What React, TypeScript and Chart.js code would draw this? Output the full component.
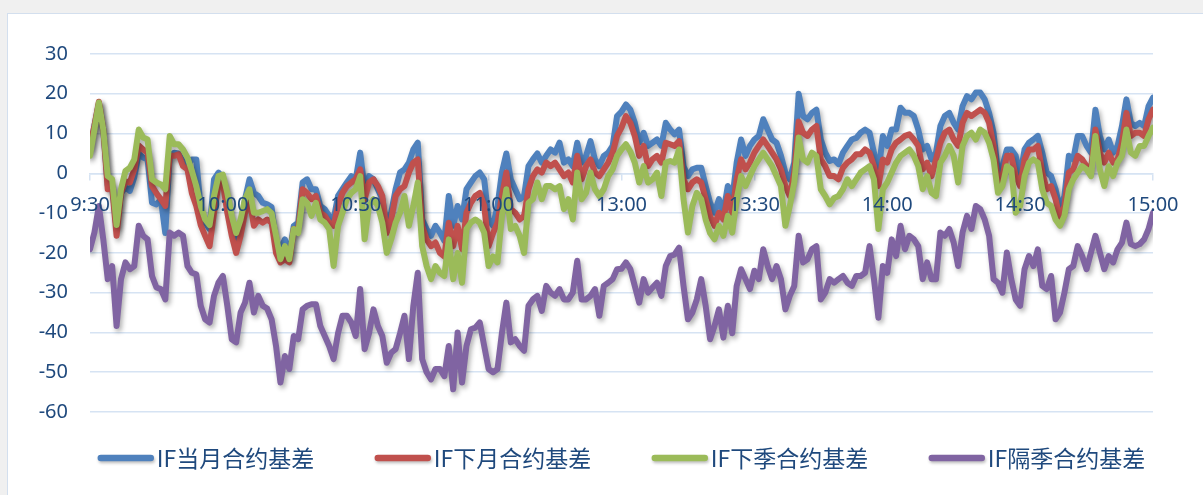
import React, { useEffect, useRef } from 'react';
import { Chart, registerables } from 'chart.js';

Chart.register(...registerables);

const tickLabels = ['9:30', '10:00', '10:30', '11:00', '13:00', '13:30', '14:00', '14:30', '15:00'];
const seriesNames = ['IF当月合约基差', 'IF下月合约基差', 'IF下季合约基差', 'IF隔季合约基差'];
const seriesColors = ['#4F81BD', '#C0504D', '#9BBB59', '#8064A2'];

const ifCurrent = [
  5.5, 12, 17.5, 11, -3, -3, -14, -5, -3.5, -4.4,
  -1, 5, 4, 3.5, -7.4, -7.8, -6.5, -15, 4.4, 5.2,
  5, 3, 2, 3.5, 3.5, -9, -12.4, -14, -1.5, 0.2,
  -1, -6, -12, -17, -13, -6.5, -1.5, -4.9, -5.7, -7.4,
  -7.8, -8.5, -17.4, -19, -16.6, -20.9, -13.2, -12.4, -2.3, -1.5,
  -4, -4, -8.2, -9, -10.7, -11.6, -5.7, -4, -2.3, -0.7,
  -1.5, 5.2, -4, -0.7, -1.5, -4, -6.5, -13.2, -9.9, -4,
  0.2, 1, 2.7, 6, 7.7, -11.6, -14, -15.7, -13.2, -14.9,
  -17, -5.7, -13.2, -8.2, -11.6, -4, -2.3, -0.7, 0.2, -1.5,
  -11.6, -13.2, -8.2, 0.2, 5, -1.5, -4, -6.5, -5.7, 1.8,
  3.5, 5, 2.7, 4.4, 6, 5.2, 7.7, 2.7, 3.5, 1.8,
  7.7, 2.7, 4.4, 8.1, 3.5, 1.8, 4.4, 5.2, 6.9, 14.4,
  15.5, 17.3, 16, 12.7, 7.7, 10.2, 6.9, 7.7, 8.5, 6.9,
  12.7, 11, 9.8, 11, 1.8, -0.7, 1, 1.4, 1.4, -3.2,
  -7.4, -9.9, -6.5, -9.9, -3.2, -6.5, 2.7, 8.5, 4.4, 6.9,
  8.5, 9.4, 13.6, 11, 8.5, 7.7, 4.4, 0.2, -1.5, 2.7,
  20, 14.4, 13.6, 15.2, 16, 8.5, 5.2, 3.1, 3.5, 2.3,
  5.2, 6.9, 8.5, 8.9, 10.2, 11, 10.2, 5.2, 0.2, 9.4,
  6.9, 11, 11, 16.5, 15.2, 15.2, 14.4, 11, 6, 6.9,
  3.5, 5.2, 11.9, 14.4, 15.2, 12.7, 11, 16.9, 19.4, 18.6,
  20.3, 20.3, 18.6, 15.2, 10.2, 0.2, 1.8, 6, 6, 4.4,
  -0.7, 6, 7.7, 8.5, 9.4, 5.2, 0.2, -0.7, -4, -9,
  -5.7, 4.4, 3.5, 9.4, 9.4, 6.9, 5.2, 16, 9.4, 6,
  8.5, 5.2, 6.9, 11.9, 18.6, 12.7, 11.9, 12.7, 11.9, 16.9,
  19,
];

const ifNext = [
  6.8, 12, 18, 11, -4, -3.5, -15.7, -5, -2, -2.3,
  1, 7, 6, 5.2, -3.2, -5, -6.5, -8.2, 4.4, 4.4,
  4.8, 1.8, 1, -5, -8.2, -13, -15.7, -18.3, -9.9, -3,
  -2.3, -9.9, -15.7, -20, -15.7, -9.9, -6.5, -13.2, -11.6, -12.4,
  -11.6, -12.4, -20, -22.4, -21.6, -22.4, -14, -14, -4, -4.9,
  -6.5, -5.7, -9.9, -10.7, -12.4, -13.2, -8.2, -4.9, -3.2, -2.3,
  -1.5, 1, -6.5, -2.3, -1.5, -3.2, -5.7, -15, -11.6, -5.7,
  -4, -3.2, 0.2, 2.7, 3.5, -13.2, -16.6, -18.3, -17.4, -20,
  -20.9, -12.4, -18.3, -13.2, -19.1, -9.9, -7.4, -5.7, -4.9, -8.2,
  -18.3, -15, -12.4, -5.7, 0.2, -9, -9.9, -11.6, -10.7, -4,
  -0.7, 1, 0.2, 2.7, 1.8, 2.7, 1, -0.7, 0.2, -2.3,
  4.4, -1.5, 1.8, 3.5, 0.2, -0.7, 1, 2.7, 5.2, 9.4,
  11.5, 14.4, 12.7, 9.4, 4.4, 6.9, 1.8, 3.5, 4.4, 2.7,
  7.7, 7.3, 6.9, 8.1, -1.5, -4, -2.3, -1.5, -2.3, -6.5,
  -10.8, -13.2, -9.9, -11.6, -5.7, -9.9, -1.5, 3.5, 1, 2.7,
  5.2, 6.9, 8.5, 6.9, 5.2, 3.5, 1, -3.2, -5.7, 0.2,
  13, 10.2, 9.4, 11, 11.9, 3.5, 1.8, -0.7, -0.7, -1.5,
  1.4, 2.7, 3.5, 4.8, 4.8, 6, 5.2, 1.8, -3.2, 3.5,
  2.7, 6, 7.7, 8.5, 9.4, 9.8, 8.5, 6.9, 1, 2.7,
  -0.7, 3.5, 7.7, 10.2, 11, 8.5, 6.9, 12.7, 15.2, 14.4,
  15.2, 16, 15.2, 12.7, 6.9, -2.3, -0.7, 4.4, 4.4, -0.7,
  -3.2, 3.5, 6, 6, 6.9, 0.2, -4, -3.2, -6.5, -11.6,
  -8.2, 0.2, 1, 4.4, 3.5, 1.8, 1, 11, 5.2, 2.7,
  5.2, 2.7, 3.5, 7.7, 15.2, 9.4, 10.2, 10.2, 9.4, 13.6,
  16,
];

const ifNextQuarter = [
  4.4, 11, 17.8, 11, -0.7, -1.5, -13, -4, 0.6, 1.4,
  3.5, 11, 9, 8.5, -1.5, -2.3, -2.8, -4, 9.4, 7.3,
  7.3, 6, 4, 0.6, -3.2, -8.2, -11.6, -13, -5.7, -0.7,
  -0.3, -4.9, -10.7, -15, -11.6, -6.5, -4, -9.9, -9.9, -9.5,
  -9, -10, -15.7, -21.6, -18.3, -21.6, -14, -15, -6.5, -7.4,
  -10.7, -7.4, -11.6, -12.4, -14, -23.3, -13.2, -9.9, -6.5, -4.9,
  -4, -0.7, -16.6, -8.2, -6.5, -8.2, -12.4, -20, -16.6, -12.4,
  -9.9, -5.7, -13.2, -8.2, -2.3, -18.3, -23.3, -26.6, -23.3, -25,
  -25.8, -16.6, -26.6, -20, -27.5, -14, -12.4, -11.6, -12.4, -14.9,
  -23.3, -20.9, -22.4, -10.7, -4, -14, -13.2, -15.7, -20, -7.4,
  -6.5, -2.3, -6.5, -3.2, -3.2, -4, -3.2, -9, -6.5, -11.6,
  0.2, -6.5, -4.9, 0.2, -4, -5.7, -4, -0.7, 1, 4.4,
  6, 7.3, 5.5, 2.7, -2.3, 1.8, -2.3, -1.5, 0.2, -5.7,
  2.7, 3.1, 2.7, 6, -6.5, -14.9, -8.2, -4.9, -6.5, -11.6,
  -15, -16.6, -13.2, -15.7, -10.7, -14.9, -6.5, -0.7, -3.2, -0.7,
  1.8, 3.5, 5.2, 3.5, 1.8, -0.7, -3.2, -13.2, -8.2, -2.3,
  9, 3.5, 2.7, 5.2, 4.4, -4, -5.7, -7.8, -6.2, -5.7,
  -4, -1.5, -3.2, -1.5, 0.2, 1, 1.8, -1.5, -14, -4,
  -2.3, 0.2, 2.7, 4.4, 5.2, 6, 4.4, 1.8, -4, -0.7,
  -4.9, -5.7, 2.7, 4.4, 6.9, 4.4, -2.3, 6.9, 9.4, 10.2,
  8.5, 11, 10.2, 7.7, 3.5, -4.9, -3.2, 1.8, 1, -9.9,
  -8.2, -0.7, 2.7, 3.5, 2.7, -4, -7.4, -8.2, -11.6, -13.2,
  -10.7, -4, -1.5, 0.2, 1.8, 1, -0.7, 9.4, 1, -3.2,
  1.8, -0.7, 2.7, 4.4, 11, 5.2, 4.4, 6.9, 6.9, 9.4,
  11.5,
];

const ifFarQuarter = [
  -19.1, -14.9, -8.2, -16.6, -26.6, -23.3, -38.4, -26.6, -22.4, -24.1,
  -23.3, -13.2, -15.7, -16.6, -25.8, -28.7, -29.1, -31.7, -14.9, -15.7,
  -14.9, -15.7, -23.3, -25, -25.4, -33.3, -36.7, -37.5, -30.8, -27.5,
  -25.8, -33.3, -41.7, -42.5, -35, -32.5, -27.5, -35, -30.8, -33.3,
  -34, -36.7, -43.4, -52.6, -45.9, -49.2, -40.9, -41.7, -34.2, -33.3,
  -32.9, -32.9, -38.4, -40.9, -43.4, -46.7, -40.2, -35.8, -35.8, -37.5,
  -40.9, -29.1, -44.2, -40.2, -34.2, -38.4, -40.9, -47.6, -45.1, -44.2,
  -40.2, -35.8, -46.7, -33.3, -25, -46.7, -50, -51.8, -49.2, -49.2,
  -51, -43.4, -54.3, -40, -52.6, -43.4, -39.2, -38.8, -37.5, -43.4,
  -49.2, -50, -49.2, -40.2, -32.5, -42.5, -41.7, -43.4, -44.6, -33.3,
  -31.7, -30.8, -34.6, -28.3, -30, -30.8, -29.1, -31.7, -31.7, -30,
  -22, -31.7, -31.7, -30.8, -29.1, -35.8, -28.3, -27.5, -26.6, -24.1,
  -24, -22.4, -24.1, -28.3, -32.5, -26.6, -30, -28.7, -27.5, -30.8,
  -23.3, -20.8, -20.4, -18.7, -28.3, -36.7, -35, -31.7, -26.6, -33.3,
  -41.7, -38.4, -34.2, -41.3, -33.3, -40.2, -28.3, -24.1, -26.6, -29.1,
  -24.5, -26.6, -19.1, -23.3, -26.6, -23.3, -26.6, -34.2, -30.8, -28.3,
  -15.7, -22.4, -21.6, -19.1, -18.3, -31.7, -30, -26.6, -27.5, -26.6,
  -25.8, -27.5, -28.3, -25.8, -25.8, -25, -18.3, -26.6, -36.3, -23.3,
  -25, -16.6, -20.8, -13.2, -19.1, -15.7, -16.6, -18.3, -26.6, -22.4,
  -26.6, -26.6, -14.9, -15.7, -14, -17.4, -23.3, -14.9, -10.7, -14,
  -8.2, -9, -11.6, -15.7, -26.6, -27.5, -30, -19.9, -26.6, -31.7,
  -33.3, -24.1, -20.8, -23.3, -19.1, -28.3, -29.1, -25.8, -36.7, -35,
  -30, -24.1, -23.3, -18.3, -20.8, -24.1, -19.9, -15.7, -19.9, -24.1,
  -20.8, -22.4, -19.1, -17.4, -12.4, -17.8, -18.3, -17.8, -16.6, -14,
  -9.9,
];

const seriesValues = [ifCurrent, ifNext, ifNextQuarter, ifFarQuarter];

const TEXT_COLOR = '#1F497D';
const GRID_COLOR = '#D6E3F3';
const AXIS_FONT = { family: '"Noto Sans", "Open Sans", sans-serif', size: 20 };

const shadowPlugin = {
  id: 'lineShadow',
  beforeDatasetDraw(chart: any) {
    const ctx = chart.ctx;
    ctx.save();
    ctx.shadowColor = 'rgba(0,0,0,0.32)';
    ctx.shadowBlur = 5;
    ctx.shadowOffsetX = 2;
    ctx.shadowOffsetY = 3;
  },
  afterDatasetDraw(chart: any) {
    chart.ctx.restore();
  },
};

const legendPlugin = {
  id: 'excelLegend',
  afterDraw(chart: any) {
    const ctx = chart.ctx;
    const { left, right } = chart.chartArea;
    ctx.save();
    ctx.font = '23px "Noto Sans CJK SC", "Noto Sans", sans-serif';
    const lineLen = 56;
    const gap = 3;
    const step = 277;
    const lastW = lineLen + gap + ctx.measureText(seriesNames[seriesNames.length - 1]).width;
    const total = step * (seriesNames.length - 1) + lastW;
    let x = (left + right) / 2 - total / 2;
    const y = 458;
    seriesNames.forEach((name, i) => {
      ctx.save();
      ctx.shadowColor = 'rgba(0,0,0,0.25)';
      ctx.shadowBlur = 3;
      ctx.shadowOffsetX = 1;
      ctx.shadowOffsetY = 2;
      ctx.strokeStyle = seriesColors[i];
      ctx.lineWidth = 6.5;
      ctx.lineCap = 'round';
      ctx.beginPath();
      ctx.moveTo(x + 3, y);
      ctx.lineTo(x + lineLen - 3, y);
      ctx.stroke();
      ctx.restore();
      ctx.fillStyle = TEXT_COLOR;
      ctx.textBaseline = 'middle';
      ctx.textAlign = 'left';
      ctx.fillText(name, x + lineLen + gap, y);
      x += step;
    });
    ctx.restore();
  },
};

export default function App() {
  const canvasRef = useRef<HTMLCanvasElement | null>(null);

  useEffect(() => {
    const canvas = canvasRef.current;
    if (!canvas) return;
    const orders = [3, 2, 1, 0];
    const chart = new Chart(canvas, {
      type: 'line',
      data: {
        datasets: seriesValues.map((vals, i) => ({
          label: seriesNames[i],
          data: vals.map((v, idx) => ({ x: idx, y: v })),
          borderColor: seriesColors[i],
          backgroundColor: seriesColors[i],
          borderWidth: 6,
          pointRadius: 0,
          pointHoverRadius: 0,
          tension: 0,
          borderJoinStyle: 'round',
          borderCapStyle: 'round',
          fill: false,
          order: orders[i],
        })),
      },
      options: {
        responsive: false,
        animation: false,
        devicePixelRatio: 1,
        layout: { padding: { left: 0, top: 54, right: 50, bottom: 83 } },
        plugins: {
          legend: { display: false },
          tooltip: { enabled: false },
        },
        scales: {
          x: {
            type: 'linear',
            position: { y: 0 },
            min: 0,
            max: 240,
            ticks: {
              z: 1,
              stepSize: 30,
              autoSkip: false,
              maxRotation: 0,
              color: TEXT_COLOR,
              padding: 14,
              font: AXIS_FONT,
              callback: (v: any) => {
                const k = Math.round(Number(v) / 30);
                return Number(v) % 30 === 0 ? tickLabels[k] ?? '' : '';
              },
            },
            grid: {
              drawOnChartArea: false,
              drawTicks: true,
              tickLength: 6,
              color: GRID_COLOR,
              lineWidth: 1.5,
            },
            border: { display: true, color: GRID_COLOR, width: 1.5 },
          },
          y: {
            type: 'linear',
            min: -60,
            max: 30,
            afterFit: (scale: any) => {
              scale.width = 90;
            },
            ticks: {
              stepSize: 10,
              color: TEXT_COLOR,
              padding: 22,
              font: AXIS_FONT,
            },
            grid: {
              color: GRID_COLOR,
              lineWidth: 1.5,
              drawTicks: false,
            },
            border: { display: false },
          },
        },
      },
      plugins: [shadowPlugin, legendPlugin],
    } as any);
    return () => chart.destroy();
  }, []);

  return (
    <div style={{ position: 'fixed', left: 0, top: 0, width: 1203, height: 495, background: '#F0F0F0', overflow: 'hidden' }}>
      <div
        style={{
          position: 'absolute',
          left: 7,
          top: 13,
          width: 1300,
          height: 600,
          background: '#FFFFFF',
          border: '1px solid #D3DFEE',
        }}
      />
      <canvas
        ref={canvasRef}
        width={1203}
        height={495}
        style={{ position: 'absolute', left: 0, top: 0, width: 1203, height: 495 }}
      />
    </div>
  );
}
